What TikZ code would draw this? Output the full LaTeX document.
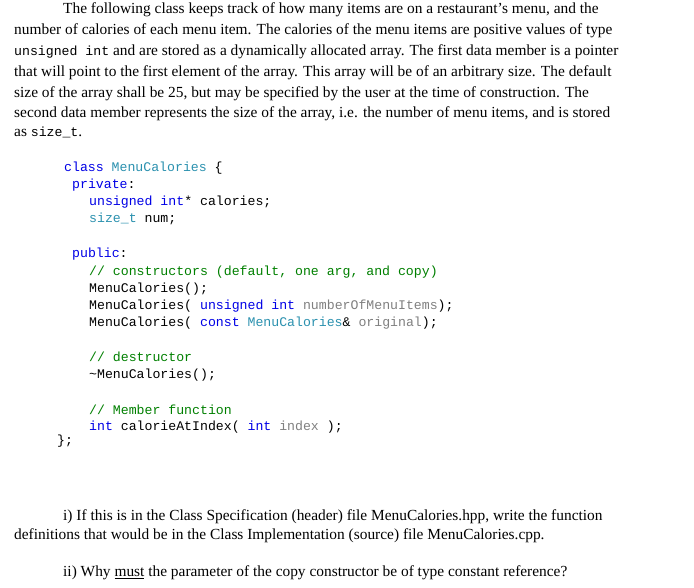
\documentclass[tikz,border=0pt]{standalone}
\usepackage{fontspec}
\setmainfont{Liberation Serif}
\setmonofont{Liberation Mono}
\definecolor{kw}{RGB}{0,0,230}
\definecolor{ty}{RGB}{43,145,175}
\definecolor{cm}{RGB}{0,128,0}
\definecolor{pa}{RGB}{128,128,128}
\tikzset{body/.style={anchor=west,inner sep=0,font=\fontsize{15.4}{17}\selectfont},
code/.style={anchor=west,inner sep=0,font=\ttfamily\fontsize{13.2}{15}\selectfont}}
\newcommand{\K}[1]{\textcolor{kw}{#1}}
\newcommand{\T}[1]{\textcolor{ty}{#1}}
\newcommand{\C}[1]{\textcolor{cm}{#1}}
\newcommand{\G}[1]{\textcolor{pa}{#1}}
\begin{document}
\begin{tikzpicture}[x=1pt,y=-1pt]
\useasboundingbox[fill=white] (0,0) rectangle (694,587);
\node[body] (l1) at (63,10) {The following class keeps track of how many items are on a restaurant's menu, and the};
\node[body] (l2) at (14,31) {number of calories of each menu item. The calories of the menu items are positive values of type};
\node[body] (l3) at (14,52) {{\ttfamily\fontsize{13.2}{15}\selectfont unsigned int} and are stored as a dynamically allocated array. The first data member is a pointer};
\node[body] (l4) at (14,73) {that will point to the first element of the array. This array will be of an arbitrary size. The default};
\node[body] (l5) at (14,94) {size of the array shall be 25, but may be specified by the user at the time of construction. The};
\node[body] (l6) at (14,114) {second data member represents the size of the array, i.e. the number of menu items, and is stored};
\node[body] (l7) at (14,132) {as {\ttfamily\fontsize{13.2}{15}\selectfont size\_t}.};
\node[code] (c1) at (64,168) {\K{class} \T{MenuCalories} \{};
\node[code] (c2) at (72,185) {\K{private}:};
\node[code] (c3) at (89,202) {\K{unsigned} \K{int}* calories;};
\node[code] (c4) at (89,219) {\T{size\_t} num;};
\node[code] (c5) at (72,254) {\K{public}:};
\node[code] (c6) at (89,272) {\C{// constructors (default, one arg, and copy)}};
\node[code] (c7) at (89,289) {MenuCalories();};
\node[code] (c8) at (89,306) {MenuCalories( \K{unsigned} \K{int} \G{numberOfMenuItems});};
\node[code] (c9) at (89,323) {MenuCalories( \K{const} \T{MenuCalories}\& \G{original});};
\node[code] (c10) at (89,357) {\C{// destructor}};
\node[code] (c11) at (89,375) {\textasciitilde MenuCalories();};
\node[code] (c12) at (89,410) {\C{// Member function}};
\node[code] (c13) at (89,427) {\K{int} calorieAtIndex( \K{int} \G{index} );};
\node[code] (c14) at (57,441) {\};};
\node[body] (q1) at (63,517) {i) If this is in the Class Specification (header) file MenuCalories.hpp, write the function};
\node[body] (q2) at (14,536) {definitions that would be in the Class Implementation (source) file MenuCalories.cpp.};
\node[body] (q3) at (63,573) {ii) Why \underline{must} the parameter of the copy constructor be of type constant reference?};
\end{tikzpicture}
\end{document}
